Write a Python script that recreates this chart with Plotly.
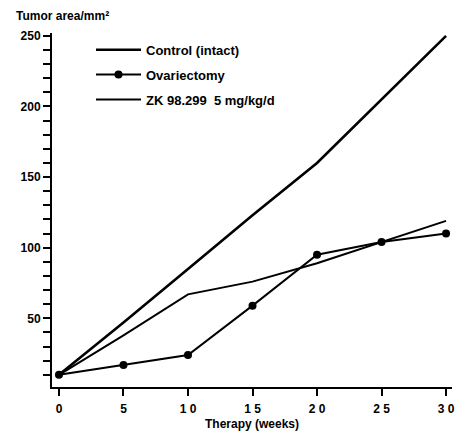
import plotly.graph_objects as go

weeks = [0, 5, 10, 15, 20, 25, 30]
control = [10, 47, 85, 123, 160, 205, 250]
ovariectomy = [10, 17, 24, 59, 95, 104, 110]
zk = [10, 38, 67, 76, 89, 104, 119]

x_ticks = [0, 5, 10, 15, 20, 25, 30]
x_ticktext = ["0", "5", "1 0", "1 5", "2 0", "2 5", "3 0"]
y_ticks = [50, 100, 150, 200, 250]

FONT = "Liberation Sans, Arial, sans-serif"

fig = go.Figure()
fig.add_trace(go.Scatter(x=weeks, y=control, mode="lines", name="Control (intact)", legendgroup="a",
                         line=dict(color="black", width=2.6)))
fig.add_trace(go.Scatter(x=weeks, y=ovariectomy, mode="lines+markers", name="Ovariectomy", legendgroup="b",
                         line=dict(color="black", width=2), marker=dict(color="black", size=8)))
fig.add_trace(go.Scatter(x=weeks, y=zk, mode="lines", name="ZK 98.299  5 mg/kg/d", legendgroup="c",
                         line=dict(color="black", width=2)))

fig.update_layout(
    width=462, height=432,
    margin=dict(l=52, r=10, t=33, b=45, autoexpand=False),
    paper_bgcolor="white", plot_bgcolor="white",
    font=dict(family=FONT, color="black", size=12, weight="bold"),
    showlegend=True,
    legend=dict(x=0.0975, y=0.995, xanchor="left", yanchor="top",
                bgcolor="rgba(0,0,0,0)", font=dict(size=13, family=FONT, weight="bold"),
                itemwidth=45, tracegroupgap=5),
    xaxis=dict(range=[-0.54, 30.46], tickvals=x_ticks, ticktext=x_ticktext, automargin=False,
               showgrid=False, zeroline=False, showline=True, linecolor="black", linewidth=2,
               ticks="outside", ticklen=7, tickwidth=2, tickcolor="black",
               tickfont=dict(size=12, weight="bold"), ticklabelstandoff=3,
               title=dict(text="Therapy (weeks)", font=dict(size=12, weight="bold"), standoff=4)),
    yaxis=dict(range=[1.4, 252], tickvals=y_ticks, automargin=False,
               showgrid=False, zeroline=False, showline=True, linecolor="black", linewidth=2,
               ticks="outside", ticklen=7, tickwidth=2, tickcolor="black",
               tickfont=dict(size=12, weight="bold"),
               minor=dict(dtick=10, tick0=0, ticks="outside", ticklen=7, tickwidth=2, tickcolor="black", showgrid=False)),
    annotations=[dict(text="Tumor area/mm²", xref="paper", yref="paper", x=-52/400, y=1 + 17/354,
                      xanchor="left", yanchor="middle", showarrow=False,
                      font=dict(size=12, weight="bold"), xshift=14)],
)

fig.write_html("out.html")
